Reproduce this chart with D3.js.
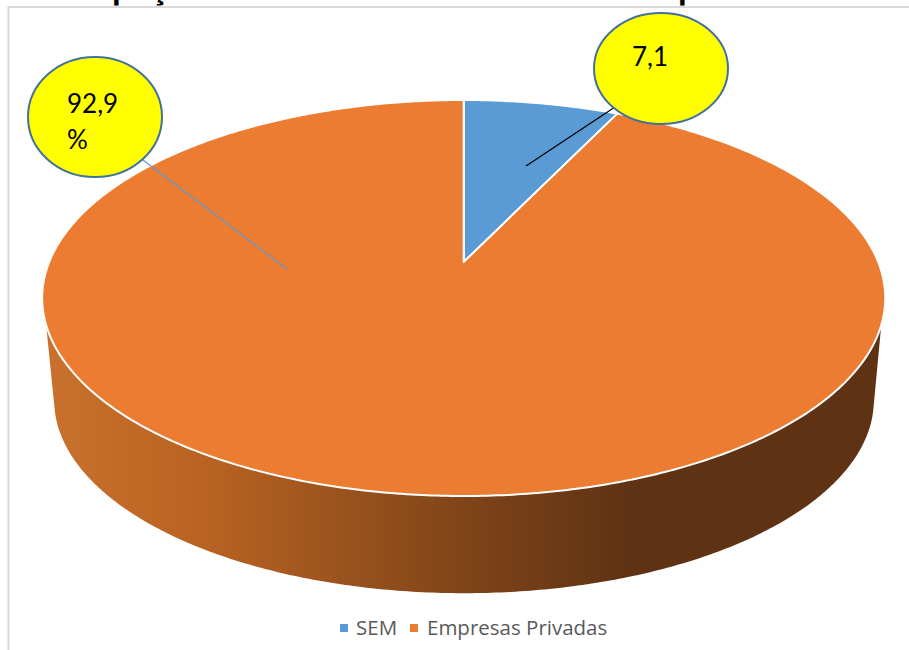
<!DOCTYPE html>
<html lang="pt">
<head>
<meta charset="utf-8">
<title>Participação das SEM</title>
<script src="https://cdn.jsdelivr.net/npm/d3@7/dist/d3.min.js"></script>
<style>
  html, body { margin: 0; padding: 0; background: #fff; overflow: hidden; }
  svg { display: block; }
  text { font-family: Lato, "Open Sans", sans-serif; }
  text.legend-label { font-family: "Open Sans", sans-serif; }
</style>
</head>
<body>
<svg id="chart" width="909" height="650"></svg>
<script>
// Chart data
const categories = ["SEM", "Empresas Privadas"];
const shares = [7.1, 92.9];
const calloutLines = [["7,1"], ["92,9", "%"]];
const titleText = "Participação das SEM sobre o Total das Empresas Estatais";

const colors = d3.scaleOrdinal().domain(categories).range(["#5b9bd5", "#eb7c31"]);

const W = 909, H = 650;
const svg = d3.select("#chart").attr("viewBox", `0 0 ${W} ${H}`);
const defs = svg.append("defs");

// Tilted-disc projection: a point at polar angle a (clockwise from 12 o'clock)
// and relative radius r goes through a perspective divide along the depth axis.
const persp = 0.1818;
const discTop = { cx: 463.7, cy: 262, ax: 414.5, ay: 191.45 };
const discBase = { cx: 464, cy: 365, ax: 403, ay: 186.7 };
function project(disc, a, r = 1) {
  const X = r * Math.sin(a), Y = r * Math.cos(a);
  const w = 1 + persp * Y;
  return [disc.cx + disc.ax * X / w, disc.cy - disc.ay * Y / w];
}
function sampleArc(disc, a0, a1) {
  const n = Math.max(2, Math.ceil(Math.abs(a1 - a0) / 0.01));
  return d3.range(n + 1).map(i => project(disc, a0 + (a1 - a0) * i / n));
}

const arcs = d3.pie().sort(null).value(d => d)(shares);
const line = d3.line();
const deg = Math.PI / 180;

// Frame of the chart area (open at the right and bottom)
svg.append("path")
  .attr("d", "M8.5,650V7H909")
  .attr("fill", "none")
  .attr("stroke", "#d9d9d9")
  .attr("stroke-width", 2);

// Title: only the strip above the frame is shown
defs.append("clipPath").attr("id", "titleStrip")
  .append("rect").attr("x", 0).attr("y", 0).attr("width", W).attr("height", 5.5);
svg.append("g").attr("clip-path", "url(#titleStrip)")
  .append("text")
  .attr("x", 11).attr("y", -0.3)
  .attr("font-size", 35.3)
  .attr("font-weight", 700)
  .attr("fill", "#000")
  .text(titleText);

// Side wall: only the slices that reach the front half of the rim have one
const wallGradient = defs.append("linearGradient")
  .attr("id", "wallShade")
  .attr("gradientUnits", "userSpaceOnUse")
  .attr("x1", 45).attr("x2", 884).attr("y1", 0).attr("y2", 0);
[[0, "#c9712d"], [0.19, "#b96322"], [0.5, "#7f4419"], [0.7, "#5f3213"], [1, "#5f3213"]]
  .forEach(([o, c]) => wallGradient.append("stop").attr("offset", o).attr("stop-color", c));

const topFront = [108.1 * deg, 251.9 * deg];
const baseFront = [102.5 * deg, 257.5 * deg];
arcs.forEach(d => {
  if (d.endAngle <= topFront[0] || d.startAngle >= topFront[1]) return;
  const upper = sampleArc(discTop,
    Math.max(d.startAngle, topFront[0]), Math.min(d.endAngle, topFront[1]));
  const lower = sampleArc(discBase,
    Math.min(d.endAngle, baseFront[1]), Math.max(d.startAngle, baseFront[0]));
  svg.append("path")
    .attr("d", line(upper.concat(lower)) + "Z")
    .attr("fill", "url(#wallShade)");
});

// Top face of each slice
svg.append("g").selectAll("path")
  .data(arcs)
  .join("path")
  .attr("d", d => line([project(discTop, 0, 0)]
    .concat(sampleArc(discTop, d.startAngle, d.endAngle))) + "Z")
  .attr("fill", (d, i) => colors(categories[i]))
  .attr("stroke", "#fff")
  .attr("stroke-width", 2)
  .attr("stroke-linejoin", "round");

// Callouts with their leader lines
const callouts = [
  { cx: 661, cy: 68.5, rx: 67, ry: 55.5, x: 632, y: 66, from: [526, 166], to: [615, 107], stroke: "#000", width: 1.3 },
  { cx: 95, cy: 117, rx: 67, ry: 60, x: 67, y: 113, from: [287, 269], to: [143, 160], stroke: "#5b9bd5", width: 1.2 }
];
const calloutGroup = svg.append("g").selectAll("g")
  .data(callouts)
  .join("g");
calloutGroup.append("line")
  .attr("x1", d => d.from[0]).attr("y1", d => d.from[1])
  .attr("x2", d => d.to[0]).attr("y2", d => d.to[1])
  .attr("stroke", d => d.stroke)
  .attr("stroke-width", d => d.width);
calloutGroup.append("ellipse")
  .attr("cx", d => d.cx).attr("cy", d => d.cy)
  .attr("rx", d => d.rx).attr("ry", d => d.ry)
  .attr("fill", "#ffff00")
  .attr("stroke", "#41719c")
  .attr("stroke-width", 2);
calloutGroup.each(function (d, i) {
  d3.select(this).selectAll("text")
    .data(calloutLines[i])
    .join("text")
    .attr("x", d.x)
    .attr("y", (t, j) => d.y + j * 36)
    .attr("font-size", 26)
    .attr("fill", "#000")
    .text(t => t);
});

// Legend
const legendItems = [
  { sx: 340, tx: 356 },
  { sx: 410, tx: 427 }
];
const legend = svg.append("g").selectAll("g")
  .data(categories)
  .join("g");
legend.append("rect")
  .attr("x", (d, i) => legendItems[i].sx)
  .attr("y", 624)
  .attr("width", 8).attr("height", 8)
  .attr("fill", d => colors(d));
legend.append("text")
  .attr("class", "legend-label")
  .attr("x", (d, i) => legendItems[i].tx)
  .attr("y", 634.5)
  .attr("font-size", 20.5)
  .attr("fill", "#595959")
  .text(d => d);
</script>
</body>
</html>
